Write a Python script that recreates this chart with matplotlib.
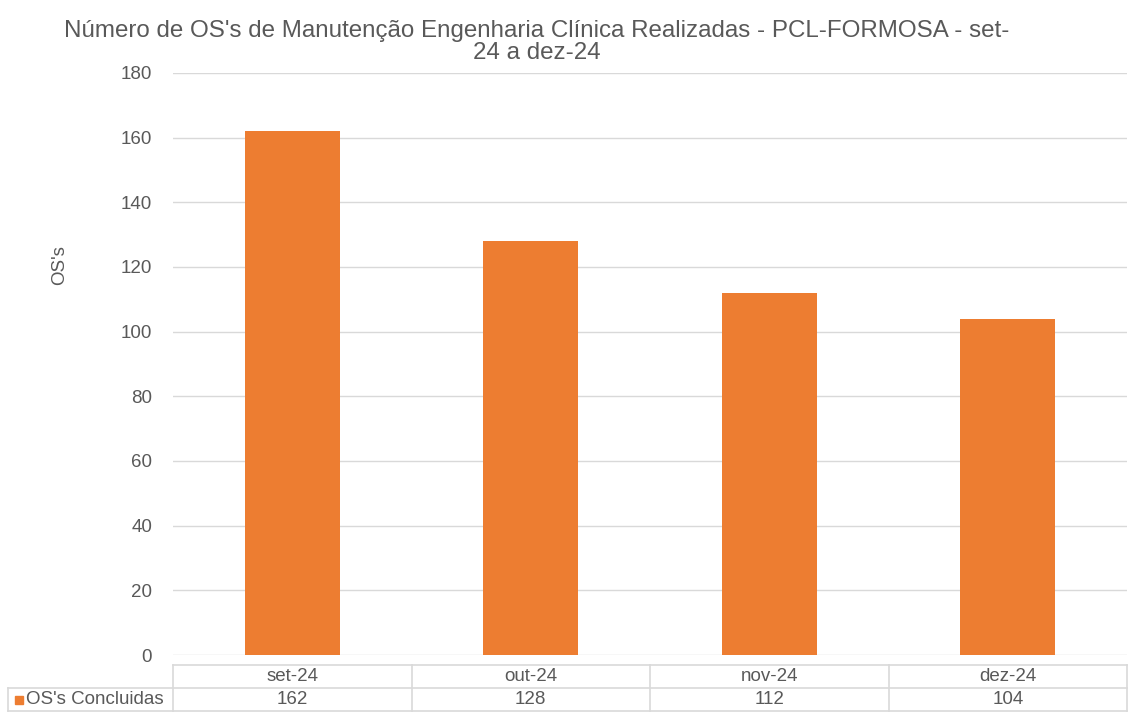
import matplotlib.pyplot as plt
from matplotlib.lines import Line2D
from matplotlib.patches import Rectangle

plt.rcParams['font.family'] = ['Liberation Sans', 'DejaVu Sans']

months = ["set-24", "out-24", "nov-24", "dez-24"]
concluidas = [162, 128, 112, 104]
series_name = "OS's Concluidas"
title = "Número de OS's de Manutenção Engenharia Clínica Realizadas - PCL-FORMOSA - set-\n24 a dez-24"

W, H = 1128, 713
orange = "#ED7D31"
grid = "#D9D9D9"
text_c = "#595959"
fs = 13.5

fig = plt.figure(figsize=(W / 100, H / 100), dpi=100)
ax = fig.add_axes([173 / W, 1 - 655 / H, (1127 - 173) / W, (655 - 73) / H])

x = list(range(len(months)))
ax.bar(x, concluidas, width=0.4, color=orange, zorder=3)
ax.set_xlim(-0.5, len(months) - 0.5)
ax.set_ylim(0, 180)
ax.set_yticks(range(0, 181, 20))
ax.yaxis.grid(True, color=grid, linewidth=1, zorder=0)
ax.set_xticks([])
ax.tick_params(axis='y', length=0, labelsize=fs, labelcolor=text_c, pad=15)
for s in ax.spines.values():
    s.set_visible(False)
ax.set_ylabel("OS's", fontsize=fs, color=text_c, labelpad=38)
ax.yaxis.label.set_y(0.67)

fig.text(537 / W, 1 - 42 / H, title, ha='center', va='center',
         fontsize=17.4, color=text_c, linespacing=0.98)


# data table under the plot, drawn in figure pixels
def fx(px):
    return px / W


def fy(py):
    return 1 - py / H


def hline(x0, x1, y):
    fig.add_artist(Line2D([fx(x0), fx(x1)], [fy(y), fy(y)], color=grid, lw=1.2))


def vline(xp, y0, y1):
    fig.add_artist(Line2D([fx(xp), fx(xp)], [fy(y0), fy(y1)], color=grid, lw=1.2))


left, right = 173, 1127
row_top, row_mid, row_bot = 665, 688, 711
col_w = (right - left) / len(months)

hline(left, right, row_top)
hline(8, right, row_mid)
hline(8, right, row_bot)
vline(8, row_mid, row_bot)
for i in range(len(months) + 1):
    vline(left + i * col_w, row_top, row_bot)

for i, (m, v) in enumerate(zip(months, concluidas)):
    cx = fx(left + (i + 0.5) * col_w)
    fig.text(cx, fy((row_top + row_mid) / 2), m, ha='center', va='center',
             fontsize=fs, color=text_c)
    fig.text(cx, fy((row_mid + row_bot) / 2), str(v), ha='center', va='center',
             fontsize=fs, color=text_c)

fig.add_artist(Rectangle((fx(15), fy(704)), fx(8), 8 / H, color=orange,
                         transform=fig.transFigure))
fig.text(fx(26), fy((row_mid + row_bot) / 2), series_name, ha='left', va='center',
         fontsize=fs, color=text_c)

fig.savefig("out.png", dpi=100)
